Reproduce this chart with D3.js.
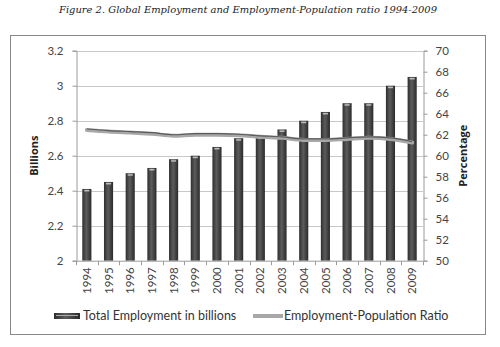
<!DOCTYPE html>
<html><head><meta charset="utf-8">
<script src="https://cdn.jsdelivr.net/npm/d3@7"></script>
<style>body{margin:0;background:#fff}svg{display:block}</style>
</head><body>
<svg id="c" width="500" height="347"></svg>
<script>
const years = ["1994","1995","1996","1997","1998","1999","2000","2001","2002","2003","2004","2005","2006","2007","2008","2009"];
const employment = [2.41,2.45,2.50,2.53,2.58,2.60,2.65,2.70,2.71,2.75,2.80,2.85,2.90,2.90,3.00,3.05];
const ratio = [62.45,62.3,62.2,62.1,61.9,62.0,62.0,61.95,61.8,61.7,61.5,61.5,61.6,61.7,61.6,61.25];
const leftTicks = [2,2.2,2.4,2.6,2.8,3,3.2];
const rightTicks = [50,52,54,56,58,60,62,64,66,68,70];
const title = "Figure 2. Global Employment and Employment-Population ratio 1994-2009";
const seriesNames = ["Total Employment in billions","Employment-Population Ratio"];

const svg = d3.select("#c");
const L = 76, R = 423, T = 50.7, B = 260.7;
const font = "Lato, 'Open Sans', sans-serif";

const defs = svg.append("defs");
const g = defs.append("linearGradient").attr("id","bar").attr("x1","0").attr("x2","1").attr("y1","0").attr("y2","0");
g.append("stop").attr("offset","0").attr("stop-color","#2e2e2e");
g.append("stop").attr("offset","0.45").attr("stop-color","#5c5c5c");
g.append("stop").attr("offset","1").attr("stop-color","#2a2a2a");

svg.append("text").attr("x",248).attr("y",13).attr("text-anchor","middle")
  .attr("font-family","'DejaVu Serif', serif").attr("font-style","italic").attr("font-size",10)
  .attr("textLength",378).attr("lengthAdjust","spacingAndGlyphs").attr("fill","#222").text(title);

svg.append("rect").attr("x",10.5).attr("y",35.5).attr("width",475).attr("height",299)
  .attr("fill","#fff").attr("stroke","#888").attr("stroke-width",1);

const x = d3.scaleBand().domain(years).range([L,R]).paddingInner(0.58).paddingOuter(0.29);
const xc = d3.scalePoint().domain(years).range([L,R]).padding(0.5);
const yL = d3.scaleLinear().domain([2,3.2]).range([B,T]);
const yR = d3.scaleLinear().domain([50,70]).range([B,T]);

// gridlines
svg.append("g").selectAll("line").data(leftTicks.slice(1)).join("line")
  .attr("x1",L).attr("x2",R).attr("y1",d=>Math.round(yL(d))+0.5).attr("y2",d=>Math.round(yL(d))+0.5)
  .attr("stroke","#c8c8c8").attr("stroke-width",1);

// bars
svg.append("g").selectAll("rect").data(employment).join("rect")
  .attr("x",(d,i)=>x(years[i])).attr("width",x.bandwidth())
  .attr("y",d=>yL(d)).attr("height",d=>B-yL(d)).attr("fill","url(#bar)");
svg.append("g").selectAll("rect").data(employment).join("rect")
  .attr("x",(d,i)=>x(years[i])+2).attr("width",x.bandwidth()-4)
  .attr("y",d=>yL(d)+1).attr("height",1.5).attr("fill","#bdbdbd");

// line
const line = d3.line().x((d,i)=>xc(years[i])).y(d=>yR(d)).curve(d3.curveMonotoneX);
svg.append("path").datum(ratio).attr("d",line).attr("fill","none")
  .attr("stroke","#a8a8a8").attr("stroke-width",4).attr("stroke-linecap","round");
svg.append("path").datum(ratio).attr("d",line).attr("fill","none")
  .attr("stroke","#5a5a5a").attr("stroke-width",1.2).attr("transform","translate(0,-1)");

// axes
const axL = d3.axisLeft(yL).tickValues(leftTicks).tickSize(4).tickPadding(9).tickFormat(d=>d3.format("")(d));
const gl = svg.append("g").attr("transform",`translate(${L+0.5},0)`).call(axL);
const axR = d3.axisRight(yR).tickValues(rightTicks).tickSize(4).tickPadding(8);
const gr = svg.append("g").attr("transform",`translate(${R+0.5},0)`).call(axR);
const axB = d3.axisBottom(x).tickSize(0).tickPadding(6);
const gb = svg.append("g").attr("transform",`translate(0,${B+0.5})`).call(axB);
[gl,gr,gb].forEach(a=>{
  a.selectAll("path.domain").attr("stroke","#9a9a9a");
  a.selectAll(".tick line").attr("stroke","#9a9a9a");
  a.selectAll("text").attr("font-family",font).attr("font-size",11.5).attr("fill","#444");
});
gb.selectAll(".tick text").attr("transform","rotate(-90)").attr("text-anchor","end")
  .attr("x",-6).attr("y",0).attr("dx",0).attr("dy","0.36em");
gb.selectAll("path.domain").remove();
gb.append("line").attr("x1",L).attr("x2",R).attr("y1",0).attr("y2",0).attr("stroke","#9a9a9a");
// category separator ticks
const seps = years.map((y,i)=>L + i*(R-L)/years.length).concat([R]);
gb.selectAll("line.sep").data(seps).join("line").attr("class","sep")
  .attr("x1",d=>Math.round(d)+0.5).attr("x2",d=>Math.round(d)+0.5).attr("y1",0).attr("y2",4).attr("stroke","#9a9a9a");

// axis titles
svg.append("text").attr("transform","translate(38,155.7) rotate(-90)").attr("text-anchor","middle")
  .attr("font-family","'Open Sans', sans-serif").attr("font-weight","bold").attr("font-size",11).attr("fill","#222").text("Billions");
svg.append("text").attr("transform","translate(467,155.7) rotate(-90)").attr("text-anchor","middle")
  .attr("font-family","'Open Sans', sans-serif").attr("font-weight","bold").attr("font-size",11).attr("fill","#222").text("Percentage");

// legend
const ly = 316;
svg.append("rect").attr("x",54).attr("y",ly-3).attr("width",26).attr("height",6).attr("fill","url(#bar)");
svg.append("rect").attr("x",56).attr("y",ly-1).attr("width",22).attr("height",1).attr("fill","#aaa");
svg.append("text").attr("x",83).attr("y",ly+4).attr("font-family",font).attr("font-size",12.5).attr("fill","#333").text(seriesNames[0]);
svg.append("line").attr("x1",253).attr("x2",283).attr("y1",ly).attr("y2",ly).attr("stroke","#a8a8a8").attr("stroke-width",4);
svg.append("text").attr("x",284).attr("y",ly+4).attr("font-family",font).attr("font-size",12.5).attr("fill","#333").text(seriesNames[1]);
</script>
</body></html>
